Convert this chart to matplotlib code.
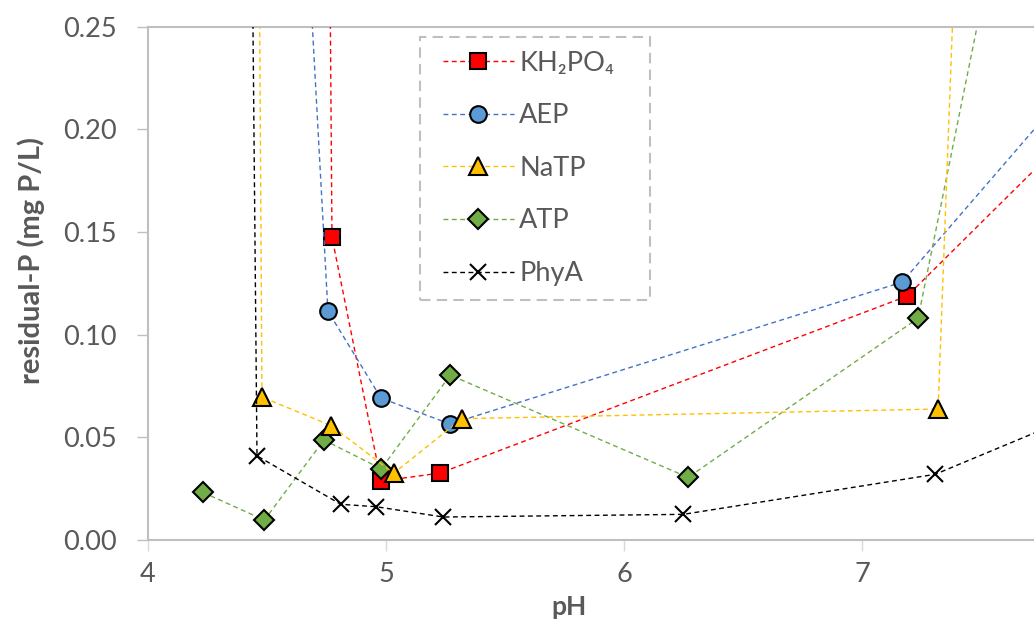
import matplotlib.pyplot as plt
from matplotlib.patches import Rectangle

plt.rcParams["font.family"] = ["Lato", "DejaVu Sans"]

# Data (first/last points sit outside the visible range)
kh2po4_ph = [4.75, 4.773, 4.979, 5.227, 7.189, 8.2]
kh2po4_p = [0.5, 0.1475, 0.0287, 0.0326, 0.1188, 0.235]

aep_ph = [4.62, 4.756, 4.979, 5.269, 7.168, 8.2]
aep_p = [0.4, 0.1115, 0.0691, 0.0565, 0.1256, 0.264]

natp_ph = [4.456, 4.479, 4.770, 5.032, 5.319, 7.319, 7.46]
natp_p = [0.5, 0.0696, 0.0557, 0.0325, 0.0591, 0.0638, 0.5]

atp_ph = [4.231, 4.489, 4.739, 4.980, 5.270, 6.269, 7.235, 7.57]
atp_p = [0.0232, 0.0097, 0.0487, 0.0347, 0.0803, 0.0305, 0.108, 0.30]

phya_ph = [4.421, 4.458, 4.81, 4.959, 5.241, 6.249, 7.307, 8.0]
phya_p = [0.5, 0.041, 0.0174, 0.0162, 0.0112, 0.0125, 0.032, 0.0655]

grey = "#595959"
dash = (0, (3.5, 2.5))

fig = plt.figure(figsize=(10.34, 6.23), dpi=100)
ax = fig.add_axes([0.1431, 0.1332, 0.8569, 0.8239])

ax.plot(kh2po4_ph, kh2po4_p, color="#FF0000", lw=1, ls=dash, marker="s", ms=12,
        mfc="#FF0000", mec="black", mew=1.5, label="KH₂PO₄", zorder=3)
ax.plot(aep_ph, aep_p, color="#4472C4", lw=1, ls=dash, marker="o", ms=12,
        mfc="#5B9BD5", mec="black", mew=1.5, label="AEP", zorder=4)
ax.plot(natp_ph, natp_p, color="#FFC000", lw=1, ls=dash, marker="^", ms=13,
        mfc="#FFC000", mec="black", mew=1.5, label="NaTP", zorder=6)
ax.plot(atp_ph, atp_p, color="#70AD47", lw=1, ls=dash, marker="D", ms=10,
        mfc="#70AD47", mec="black", mew=1.5, label="ATP", zorder=5)
ax.plot(phya_ph, phya_p, color="black", lw=1, ls=dash, marker="x", ms=12,
        mec="black", mew=1.5, label="PhyA", zorder=7)

ax.set_xlim(4, 7.722)
ax.set_ylim(0, 0.25)
ax.set_xticks([4, 5, 6, 7])
ax.set_yticks([0, 0.05, 0.10, 0.15, 0.20, 0.25])
ax.set_yticklabels(["0.00", "0.05", "0.10", "0.15", "0.20", "0.25"])

for side in ["left", "bottom", "top"]:
    ax.spines[side].set_color("#BFBFBF")
    ax.spines[side].set_linewidth(1.5)
ax.spines["right"].set_visible(False)
ax.tick_params(axis="y", direction="out", length=8, width=1, color="#BFBFBF",
               labelsize=19.5, labelcolor=grey, pad=14.5)
ax.tick_params(axis="x", direction="out", length=8, width=1, color="#D9D9D9",
               labelsize=19.5, labelcolor=grey, pad=8)

# axis titles placed like the Excel original
fig.text(569 / 1034, 1 - 615 / 623, "pH", fontsize=19, fontweight="bold",
         color=grey, ha="center", va="baseline")
fig.text(31 / 1034, 1 - 260 / 623, "residual-P (mg P/L)", fontsize=21,
         fontweight="bold", color=grey, rotation=90, ha="center", va="center")

# legend without its own frame; dashed box drawn separately for Excel-like padding
leg = ax.legend(loc="upper left", bbox_to_anchor=(0.318, 0.98), borderaxespad=0,
                fontsize=19.5, handlelength=2.6, labelspacing=1.02, borderpad=0.5,
                handletextpad=0.2, frameon=False, labelcolor=grey)
leg.set_zorder(10)
box = Rectangle((0.307, 0.4676), 0.2596, 0.5124, transform=ax.transAxes,
                fill=True, facecolor="white", edgecolor="#BFBFBF", lw=1.5,
                ls=(0, (5, 3)), zorder=9)
ax.add_patch(box)

fig.savefig("out.png", dpi=100)
